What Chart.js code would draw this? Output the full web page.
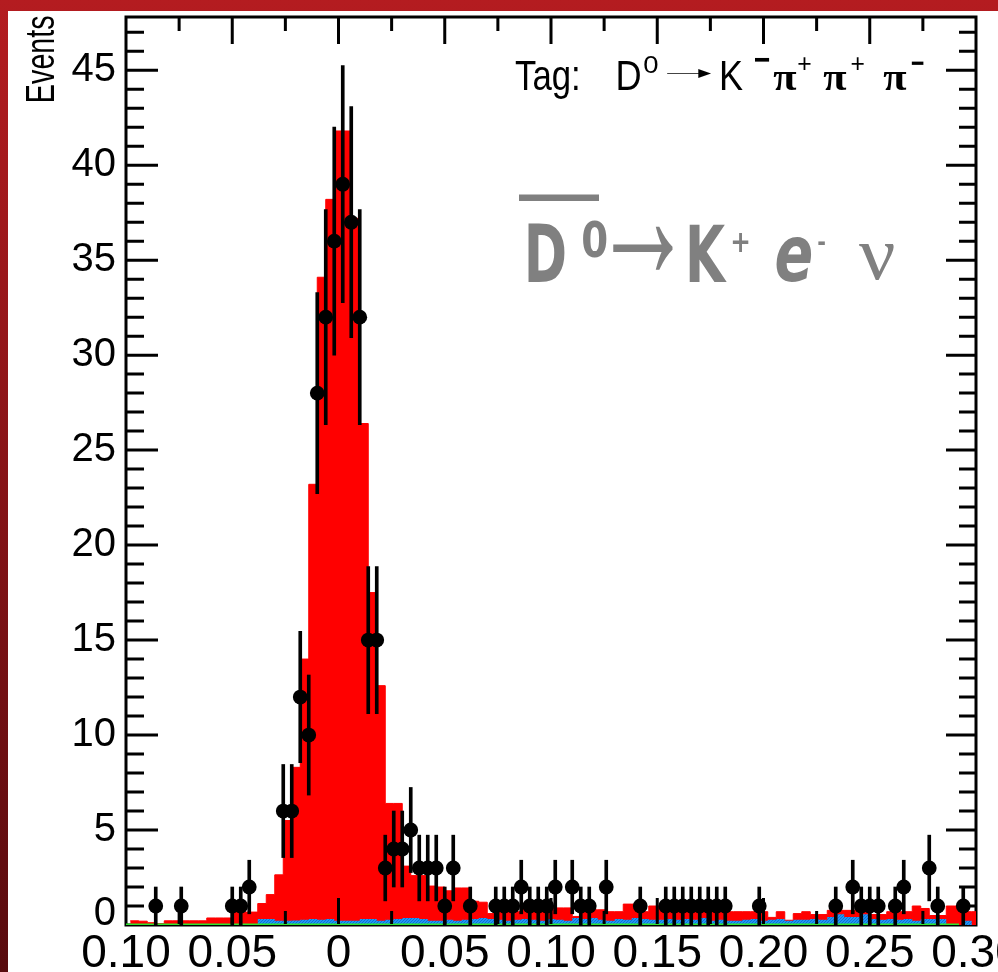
<!DOCTYPE html>
<html>
<head>
<meta charset="utf-8">
<title>U distribution, D0bar -> K+ e- nu</title>
<script src="https://cdn.jsdelivr.net/npm/chart.js@4.4.1/dist/chart.umd.min.js"></script>
<style>
  html, body { margin: 0; padding: 0; background: #fff; }
  canvas { display: block; }
</style>
</head>
<body>
<canvas id="chart" width="998" height="972"></canvas>
<script>
// ---- binning (U = Emiss - |Pmiss|, GeV) ----
const dataLow = -0.1;       // low edge of the data histogram
const binWidth = 0.004;     // 100 bins up to 0.30
const mcLow = -0.098;       // MC histograms are booked half a bin later

// ---- data: events per bin ----
const dataCounts = [
  0, 0, 0, 1, 0, 0, 1, 0, 0, 0,
  0, 0, 1, 1, 2, 0, 0, 0, 6, 6,
  12, 10, 28, 32, 36, 39, 37, 32, 15, 15,
  3, 4, 4, 5, 3, 3, 3, 1, 3, 0,
  1, 0, 0, 1, 1, 1, 2, 1, 1, 1,
  2, 0, 2, 1, 1, 0, 2, 0, 0, 0,
  1, 0, 0, 1, 1, 1, 1, 1, 1, 1,
  1, 0, 0, 0, 1, 0, 0, 0, 0, 0,
  0, 0, 0, 1, 0, 2, 1, 1, 1, 0,
  1, 2, 0, 0, 3, 1, 0, 0, 1, 0
];

// ---- data: statistical error per bin ----
const dataErrors = [
  0, 0, 0, 1, 0, 0, 1, 0, 0, 0,
  0, 0, 1, 1, 1.41, 0, 0, 0, 2.45, 2.45,
  3.46, 3.16, 5.29, 5.66, 6.00, 6.24, 6.08, 5.66, 3.87, 3.87,
  1.73, 2.00, 2.00, 2.24, 1.73, 1.73, 1.73, 1.00, 1.73, 0,
  1, 0, 0, 1, 1, 1, 1.41, 1, 1, 1,
  1.41, 0, 1.41, 1, 1, 0, 1.41, 0, 0, 0,
  1, 0, 0, 1, 1, 1, 1, 1, 1, 1,
  1, 0, 0, 0, 1, 0, 0, 0, 0, 0,
  0, 0, 0, 1, 0, 1.41, 1, 1, 1, 0,
  1, 1.41, 0, 0, 1.73, 1, 0, 0, 1, 0
];

// ---- MC: signal + background (red) ----
const mcTotal = [
  0.22, 0.20, 0.12, 0.06, 0.22, 0.22, 0.22, 0.22, 0.22, 0.37,
  0.37, 0.37, 0.68, 0.68, 0.68, 1.13, 1.60, 2.64, 5.50, 8.30,
  14.0, 23.2, 34.1, 38.2, 41.8, 41.8, 37.2, 26.4, 17.5, 12.6,
  6.40, 6.40, 3.10, 2.60, 2.60, 2.05, 2.00, 1.80, 1.95, 1.95,
  1.25, 1.20, 0.60, 0.90, 0.90, 0.70, 0.90, 0.90, 0.70, 0.95,
  0.90, 0.90, 0.45, 0.70, 0.80, 0.80, 0.70, 0.70, 1.10, 1.10,
  0.70, 1.00, 1.00, 0.80, 0.70, 0.70, 0.70, 0.70, 0.87, 0.87,
  0.70, 0.70, 0.70, 0.70, 0.70, 0.40, 0.70, 0.25, 0.60, 0.70,
  0.55, 0.55, 0.77, 0.77, 0.77, 0.77, 0.77, 0.55, 0.55, 0.70,
  0.70, 0.70, 1.00, 0.87, 0.50, 0.50, 1.00, 1.00, 0.70, 0.70
];

// ---- MC: background component (blue) ----
const mcBkg = [
  0, 0, 0, 0, 0, 0, 0, 0, 0, 0,
  0, 0, 0, 0, 0, 0.32, 0.32, 0.22, 0.22, 0.24,
  0.27, 0.32, 0.27, 0.32, 0.22, 0.22, 0.22, 0.32, 0.32, 0.22,
  0.27, 0.32, 0.37, 0.37, 0.32, 0.22, 0.22, 0.27, 0.22, 0.27,
  0.32, 0.37, 0.32, 0.27, 0.22, 0.27, 0.32, 0.27, 0.22, 0.32,
  0.27, 0.22, 0.37, 0.32, 0.37, 0.27, 0.22, 0.32, 0.27, 0.37,
  0.32, 0.27, 0.27, 0.32, 0.27, 0.32, 0.27, 0.37, 0.22, 0.27,
  0.22, 0.22, 0.27, 0.32, 0.22, 0.27, 0.32, 0.22, 0.27, 0.27,
  0.32, 0.27, 0.42, 0.57, 0.42, 0.42, 0.57, 0.32, 0.27, 0.32,
  0.27, 0.32, 0.22, 0.32, 0.32, 0.32, 0, 0, 0.22, 0
];

// ---- other background (green), empty over its 98 bins ----
const otherBkg = [
  0, 0, 0, 0, 0, 0, 0, 0, 0, 0,
  0, 0, 0, 0, 0, 0, 0, 0, 0, 0,
  0, 0, 0, 0, 0, 0, 0, 0, 0, 0,
  0, 0, 0, 0, 0, 0, 0, 0, 0, 0,
  0, 0, 0, 0, 0, 0, 0, 0, 0, 0,
  0, 0, 0, 0, 0, 0, 0, 0, 0, 0,
  0, 0, 0, 0, 0, 0, 0, 0, 0, 0,
  0, 0, 0, 0, 0, 0, 0, 0, 0, 0,
  0, 0, 0, 0, 0, 0, 0, 0, 0, 0,
  0, 0, 0, 0, 0, 0, 0, 0
];

// ---- axis ticks ----
const xTickValues = [-0.10, -0.05, 0, 0.05, 0.10, 0.15, 0.20, 0.25, 0.30];
const xTickLabels = ['0.10', '0.05', '0', '0.05', '0.10', '0.15', '0.20', '0.25', '0.30'];
const yTickValues = [0, 5, 10, 15, 20, 25, 30, 35, 40, 45];
const yTickLabels = ['0', '5', '10', '15', '20', '25', '30', '35', '40', '45'];

// histogram -> step points at bin edges (last edge repeats the last content)
function histPoints(low, values) {
  const pts = values.map((v, i) => ({ x: low + i * binWidth, y: v }));
  pts.push({ x: low + values.length * binWidth, y: values[values.length - 1] });
  return pts;
}

// data points and their error bars, empty bins are not drawn
const dataPoints = [];
const errorBars = [];
dataCounts.forEach((n, i) => {
  if (n <= 0) return;
  const xc = dataLow + (i + 0.5) * binWidth;
  dataPoints.push({ x: xc, y: n });
  errorBars.push({ x: xc, y: [n - dataErrors[i], n + dataErrors[i]] });
});

// fine two-tone fill for the background histogram
function bluePattern() {
  const c = document.createElement('canvas');
  c.width = 3; c.height = 3;
  const g = c.getContext('2d');
  g.fillStyle = '#2196f3'; g.fillRect(0, 0, 3, 3);
  g.fillStyle = '#0f6fd6'; g.fillRect(0, 0, 1, 1); g.fillRect(2, 1, 1, 1); g.fillRect(1, 2, 1, 1);
  return g.createPattern(c, 'repeat');
}

// text helper: squeezes a string into a given ink box
function fitGlyph(ctx, text, font, x, top, w, h, color) {
  ctx.save();
  ctx.font = font;
  ctx.textAlign = 'left';
  ctx.textBaseline = 'alphabetic';
  const m = ctx.measureText(text);
  const iw = m.actualBoundingBoxLeft + m.actualBoundingBoxRight;
  const ih = m.actualBoundingBoxAscent + m.actualBoundingBoxDescent;
  const sx = w / iw, sy = h / ih;
  ctx.translate(x + m.actualBoundingBoxLeft * sx, top + m.actualBoundingBoxAscent * sy);
  ctx.scale(sx, sy);
  ctx.fillStyle = color;
  ctx.fillText(text, 0, 0);
  ctx.restore();
}

const SANS = '"Liberation Sans", Arial, sans-serif';
const SERIF = '"Liberation Serif", "Times New Roman", serif';
const DJV = '"DejaVu Sans", sans-serif';
const DJVC = '"DejaVu Sans Condensed", "DejaVu Sans", sans-serif';

// "Tag: D0 -> K- pi+ pi+ pi-"
const tagPieces = [
  ['Tag:', '40px ' + SANS, 515, 60.7, 63, 37.6],
  ['D', '40px ' + SANS, 618.3, 60.7, 21.7, 29.3],
  ['0', '22px ' + SANS, 643.3, 56.7, 15, 16.6],
  ['\u279D', '40px ' + DJV, 666.7, 68.5, 45, 9.5],
  ['K', '40px ' + SANS, 721.7, 60.7, 21.6, 29.3],
  ['\u2212', 'bold 30px ' + SANS, 755, 57.8, 15, 4.5],
  ['\u03c0', 'bold 40px ' + SERIF, 773.3, 71.7, 23.4, 18.3],
  ['+', '22px ' + SANS, 798.3, 56.7, 12.4, 13.3],
  ['\u03c0', 'bold 40px ' + SERIF, 823.3, 71.7, 23.4, 18.3],
  ['+', '22px ' + SANS, 851.7, 56.7, 12.3, 13.3],
  ['\u03c0', 'bold 40px ' + SERIF, 883.3, 71.7, 23.4, 18.3],
  ['\u2212', 'bold 30px ' + SANS, 911.7, 60.5, 12.3, 4]
];

// "D0bar -> K+ e- nu"
const GREY = '#808080';
const decayPieces = [
  ['D', 'bold 80px ' + DJVC, 528, 222.7, 37, 59],
  ['0', 'bold 52px ' + DJVC, 583, 220, 24, 38],
  ['\u2192', 'bold 80px ' + SANS, 613, 226, 60, 46],
  ['K', 'bold 80px ' + DJVC, 689.3, 223.3, 37.4, 58.4],
  ['+', 'bold 30px ' + DJV, 732.7, 231.7, 15.6, 20],
  ['e', 'bold italic 80px ' + DJV, 776, 236.7, 35.7, 45],
  ['-', 'bold 30px ' + DJV, 818, 240, 7, 4],
  ['\u03bd', '60px ' + SERIF, 859, 244, 35, 36]
];

const framePlugin = {
  id: 'frame',
  beforeDraw(chart) {
    const { ctx, width, height } = chart;
    ctx.save();
    const g = ctx.createLinearGradient(0, 0, 0, height);
    g.addColorStop(0, '#b41c20');
    g.addColorStop(1, '#580b0e');
    ctx.fillStyle = g;
    ctx.fillRect(0, 0, width, height);
    ctx.fillStyle = '#ffffff';
    ctx.fillRect(8, 11, width - 8, height - 11);
    ctx.restore();
  },
  beforeDatasetsDraw(chart) {
    const { ctx, chartArea: a } = chart;
    ctx.save();
    ctx.strokeStyle = '#000';
    ctx.lineWidth = 3;
    ctx.strokeRect(a.left, a.top, a.right - a.left, a.bottom - a.top);
    ctx.restore();
  },
  afterDatasetsDraw(chart) {
    const { ctx, chartArea: a, scales: { x, y } } = chart;
    ctx.save();
    ctx.strokeStyle = '#000';
    ctx.lineWidth = 3;
    ctx.beginPath();
    // x ticks: majors every 0.05, minors every 0.025, bottom and top
    for (let i = 1; i < 16; i++) {
      const px = x.getPixelForValue(x.min + i * 0.025);
      const len = i % 2 === 0 ? 27 : 14;
      ctx.moveTo(px, a.bottom - 1); ctx.lineTo(px, a.bottom - len);
      ctx.moveTo(px, a.top); ctx.lineTo(px, a.top + len);
    }
    // y ticks: majors every 5, minors every 1, left and right
    for (let v = 1; v < y.max; v++) {
      const py = y.getPixelForValue(v);
      const major = v % 5 === 0;
      ctx.moveTo(a.left, py); ctx.lineTo(a.left + (major ? 32 : 18), py);
      ctx.moveTo(a.right, py); ctx.lineTo(a.right - (major ? 30 : 17), py);
    }
    ctx.stroke();
    ctx.restore();

    // y-axis title, reading upwards along the top of the axis
    ctx.save();
    ctx.rotate(-Math.PI / 2);
    fitGlyph(ctx, 'Events', '40px ' + SANS, -101, 25, 85, 29, '#000');
    ctx.restore();

    tagPieces.forEach(p => fitGlyph(ctx, p[0], p[1], p[2], p[3], p[4], p[5], '#000'));
    decayPieces.forEach(p => fitGlyph(ctx, p[0], p[1], p[2], p[3], p[4], p[5], GREY));
    ctx.save();
    ctx.fillStyle = GREY;
    ctx.fillRect(519, 194.5, 80, 6.5);   // bar over the D
    ctx.restore();
  }
};

Chart.defaults.font.family = SANS;

new Chart(document.getElementById('chart'), {
  type: 'scatter',
  data: {
    datasets: [
      {
        type: 'scatter', label: 'Data', data: dataPoints, order: 0,
        pointRadius: 7.4, pointHoverRadius: 7.4, pointBackgroundColor: '#000',
        pointBorderWidth: 0, borderColor: '#000'
      },
      {
        type: 'bar', label: 'Error', data: errorBars, order: 1,
        backgroundColor: '#000', borderWidth: 0, barThickness: 3
      },
      {
        type: 'line', label: 'Other', data: histPoints(dataLow, otherBkg), order: 2,
        showLine: true, stepped: 'before', fill: false, pointRadius: 0,
        borderColor: '#2ee62e', borderWidth: 3
      },
      {
        type: 'line', label: 'Background MC', data: histPoints(mcLow, mcBkg), order: 3,
        showLine: true, stepped: 'before', fill: 'origin', pointRadius: 0,
        backgroundColor: bluePattern(), borderColor: 'rgba(0,0,0,0)', borderWidth: 1
      },
      {
        type: 'line', label: 'Signal + background MC', data: histPoints(mcLow, mcTotal), order: 4,
        showLine: true, stepped: 'before', fill: 'origin', pointRadius: 0,
        backgroundColor: '#ff0000', borderColor: '#ff0000', borderWidth: 1
      }
    ]
  },
  options: {
    responsive: false,
    animation: false,
    devicePixelRatio: 1,
    events: [],
    layout: { padding: { top: 17, right: 22, bottom: 0, left: 0 }, autoPadding: false },
    plugins: { legend: { display: false }, tooltip: { enabled: false } },
    scales: {
      x: {
        type: 'linear', min: -0.1, max: 0.3, offset: false,
        grid: { display: false, drawTicks: false }, border: { display: false },
        afterBuildTicks: s => { s.ticks = xTickValues.map(v => ({ value: v })); },
        afterFit: s => { s.height = 47; s.paddingLeft = 0; s.paddingRight = 0; },
        ticks: {
          autoSkip: false, maxRotation: 0, minRotation: 0, padding: 2, color: '#000',
          font: { family: SANS, size: 46 },
          callback: (v, i) => xTickLabels[i]
        }
      },
      y: {
        type: 'linear', min: 0, max: 47.8,
        grid: { display: false, drawTicks: false }, border: { display: false },
        afterBuildTicks: s => { s.ticks = yTickValues.map(v => ({ value: v })); },
        afterFit: s => { s.width = 126; s.paddingTop = 0; s.paddingBottom = 0; },
        ticks: {
          autoSkip: false, padding: 10, color: '#000',
          font: { family: SANS, size: 40, lineHeight: 0.55 },
          // the zero label sits a little above its tick, clear of the x labels
          callback: (v, i) => (i === 0 ? [yTickLabels[i], ''] : yTickLabels[i])
        }
      }
    }
  },
  plugins: [framePlugin]
});
</script>
</body>
</html>
